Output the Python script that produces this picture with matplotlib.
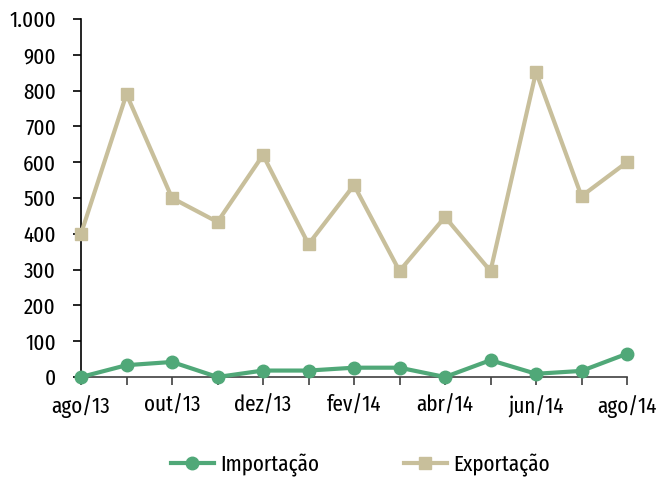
import matplotlib
matplotlib.use("Agg")
import matplotlib.pyplot as plt
from matplotlib.ticker import FuncFormatter

plt.rcParams['font.family'] = ['Fira Sans Extra Condensed', 'Fira Sans Condensed',
                               'Roboto Condensed', 'DejaVu Sans']

months = ["ago/13", "set/13", "out/13", "nov/13", "dez/13", "jan/14", "fev/14",
          "mar/14", "abr/14", "mai/14", "jun/14", "jul/14", "ago/14"]
importacao = [0, 33, 42, 0, 18, 18, 26, 26, 0, 47, 9, 17, 65]
exportacao = [400, 790, 500, 433, 620, 371, 536, 296, 447, 296, 852, 505, 600]
y_ticks = [0, 100, 200, 300, 400, 500, 600, 700, 800, 900, 1000]

green = "#50A878"
beige = "#C8BF9B"

fig = plt.figure(figsize=(6.69, 4.78), dpi=100)
ax = fig.add_axes([81 / 669, 1 - 377 / 478, 546 / 669, 358 / 478])

x = list(range(len(months)))
ax.plot(x, importacao, color=green, lw=3, marker="o", ms=9, label="Importação",
        clip_on=False, zorder=3)
ax.plot(x, exportacao, color=beige, lw=3, marker="s", ms=9, label="Exportação",
        clip_on=False, zorder=3)

ax.set_xlim(0, len(months) - 1)
ax.set_ylim(0, 1000)
ax.set_yticks(y_ticks)
ax.yaxis.set_major_formatter(FuncFormatter(lambda v, p: f"{int(v):,}".replace(",", ".")))
ax.set_xticks(x)
ax.set_xticklabels([m if i % 2 == 0 else "" for i, m in enumerate(months)])

for s in ["top", "right"]:
    ax.spines[s].set_visible(False)
ax.spines["left"].set_color("#000000")
ax.spines["bottom"].set_color("#404040")
ax.spines["left"].set_linewidth(1.2)
ax.spines["bottom"].set_linewidth(1.2)
ax.tick_params(axis="y", length=6, width=1.2, labelsize=16.5, pad=12, colors="#000000")
ax.tick_params(axis="x", length=6, width=1.2, labelsize=16.5, pad=7, colors="#404040",
               labelcolor="#000000")

fig.legend(loc="center", bbox_to_anchor=(360 / 669, 1 - 465 / 478), ncol=2, frameon=False,
           fontsize=16.5, handlelength=1.9, columnspacing=3.7, handletextpad=0.25)

fig.savefig("out.png", dpi=100)
